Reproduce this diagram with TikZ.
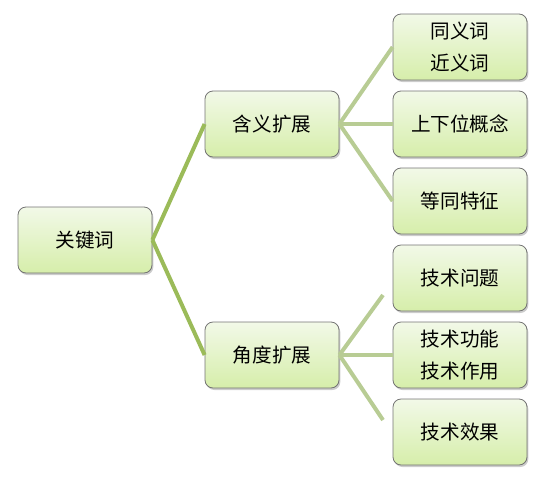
\documentclass[tikz,border=0pt]{standalone}
\usepackage{fontspec}
\newfontfamily\cjk{Noto Sans CJK SC}
\usetikzlibrary{shadows}

\definecolor{trunkgreen}{RGB}{155,187,89}
\definecolor{twiggreen}{RGB}{184,204,148}
\definecolor{boxtop}{RGB}{242,249,232}
\definecolor{boxbottom}{RGB}{214,238,170}

\begin{document}
\begin{tikzpicture}[
    x=0.75pt, y=-0.75pt,
    topic/.style={rounded corners=6pt, draw=black!55, line width=0.6pt,
        top color=boxtop, bottom color=boxbottom,
        drop shadow={opacity=0.4, shadow xshift=1pt, shadow yshift=-1.5pt},
        minimum width=100.5pt, minimum height=49.5pt, inner sep=0pt,
        align=center, font=\cjk\fontsize{14.7}{23.5}\selectfont},
    trunk/.style={trunkgreen, line width=3pt},
    twig/.style={twiggreen, line width=3pt}
]
    \useasboundingbox (0,0) rectangle (546,479);

    % root and middle level
    \node[topic] (root) at (85,240) {关键词};
    \node[topic] (mean) at (272,124) {含义扩展};
    \node[topic] (view) at (272,355) {角度扩展};

    % right column
    \node[topic] (syn)  at (460,47)  {同义词\\近义词};
    \node[topic] (hyp)  at (460,124) {上下位概念};
    \node[topic] (same) at (460,201) {等同特征};
    \node[topic] (prob) at (460,278) {技术问题};
    \node[topic] (func) at (460,355) {技术功能\\技术作用};
    \node[topic] (eff)  at (460,432) {技术效果};

    \coordinate (up) at (383,295);
    \coordinate (down) at (383,420);

    \draw[trunk] (root.east) -- (mean.west);
    \draw[trunk] (root.east) -- (view.west);

    \foreach \c in {syn,hyp,same}
        \draw[twig] (mean.east) -- (\c.west);

    \draw[twig] (view.east) -- (up);
    \draw[twig] (view.east) -- (func.west);
    \draw[twig] (view.east) -- (down);

\end{tikzpicture}
\end{document}
